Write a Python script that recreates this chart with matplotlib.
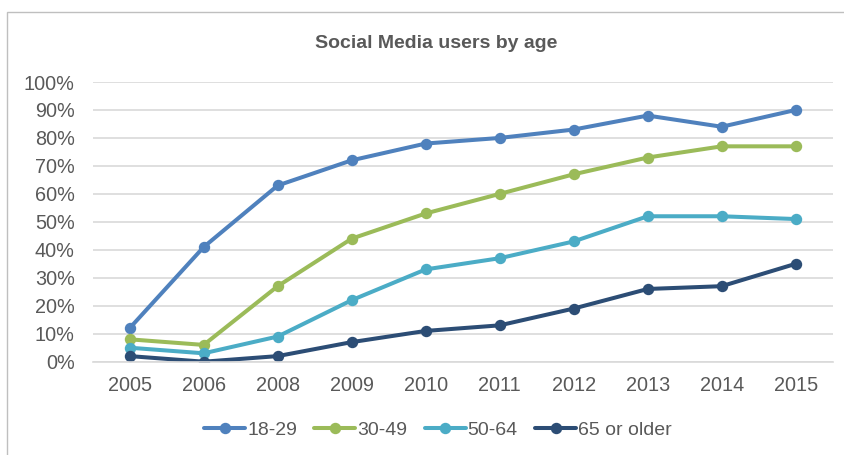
import matplotlib
matplotlib.use("Agg")
import matplotlib.pyplot as plt
from matplotlib.patches import Rectangle
from matplotlib.ticker import PercentFormatter

plt.rcParams["font.family"] = ["Liberation Sans", "DejaVu Sans"]

years = ["2005", "2006", "2008", "2009", "2010", "2011", "2012", "2013", "2014", "2015"]
age_18_29 = [12, 41, 63, 72, 78, 80, 83, 88, 84, 90]
age_30_49 = [8, 6, 27, 44, 53, 60, 67, 73, 77, 77]
age_50_64 = [5, 3, 9, 22, 33, 37, 43, 52, 52, 51]
age_65_plus = [2, 0, 2, 7, 11, 13, 19, 26, 27, 35]

series = [
    ("18-29", age_18_29, "#4F81BD"),
    ("30-49", age_30_49, "#9BBB59"),
    ("50-64", age_50_64, "#4BACC6"),
    ("65 or older", age_65_plus, "#2C4D75"),
]

W, H = 845, 455
fig = plt.figure(figsize=(W / 100, H / 100), dpi=100)
text_color = "#595959"

# chart frame
fig.patches.append(Rectangle((7 / W, -0.1), 1.2, 1 - 12 / H + 0.1,
                             transform=fig.transFigure, fill=False,
                             edgecolor="#BFBFBF", linewidth=1.0))

ax = fig.add_axes([92.7 / W, 1 - 361.7 / H, 740 / W, (361.7 - 82) / H])
x = list(range(len(years)))
for name, vals, color in series:
    ax.plot(x, [v / 100 for v in vals], color=color, lw=2.9, marker="o",
            markersize=7.2, label=name, solid_capstyle="round")

ax.set_xlim(-0.5, len(years) - 0.5)
ax.set_ylim(0, 1.0)
ax.set_yticks([i / 10 for i in range(11)])
ax.yaxis.set_major_formatter(PercentFormatter(1.0, decimals=0))
ax.set_xticks(x)
ax.set_xticklabels(years)
ax.grid(axis="y", color="#D9D9D9", lw=1.2)
ax.set_axisbelow(True)
for s in ["top", "right", "left"]:
    ax.spines[s].set_visible(False)
ax.spines["bottom"].set_color("#D9D9D9")
ax.spines["bottom"].set_linewidth(1.2)
ax.tick_params(axis="both", length=0, labelsize=14.3, labelcolor=text_color)
ax.tick_params(axis="y", pad=13)
ax.tick_params(axis="x", pad=10)

fig.text(436 / W, 1 - 43 / H, "Social Media users by age", ha="center", va="center",
         fontsize=14, fontweight="bold", color=text_color)

leg = fig.legend(loc="center", bbox_to_anchor=(438 / W, 1 - 430 / H), ncol=4,
                 frameon=False, fontsize=14, handlelength=2.1, handletextpad=0.1,
                 columnspacing=0.9, labelcolor=text_color)

fig.savefig("out.png", dpi=100)
